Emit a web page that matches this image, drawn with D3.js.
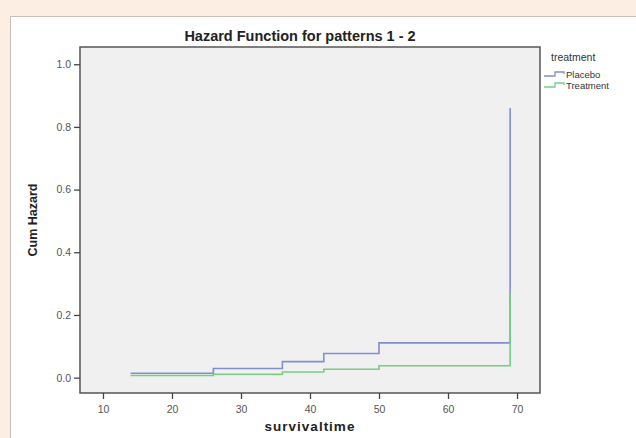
<!DOCTYPE html>
<html>
<head>
<meta charset="utf-8">
<script src="https://cdn.jsdelivr.net/npm/d3@7"></script>
<style>
  body { margin: 0; background: #fdeee3; }
  svg { display: block; }
</style>
</head>
<body>
<div class="chart"></div>
<script>
// step points
const times = [14, 26, 36, 42, 50, 69];
const placebo = [0.014, 0.029, 0.051, 0.077, 0.111, 0.86];
const treatment = [0.007, 0.011, 0.018, 0.027, 0.038, 0.268];
const xTicks = [10, 20, 30, 40, 50, 60, 70];
const yTicks = [0.0, 0.2, 0.4, 0.6, 0.8, 1.0];
const seriesNames = ['Placebo', 'Treatment'];
const colors = ['#7f8fcf', '#74cf82'];

const W = 636, H = 438;
var margin = ({top: 47, left: 80, right: 96, bottom: 45});
const width = W - margin.left - margin.right;
const height = H - margin.top - margin.bottom;

const root = d3.select('.chart').append('svg')
  .attr('width', W).attr('height', H);

// outer peach background + white panel
root.append('rect').attr('width', W).attr('height', H).attr('fill', '#fdeee3');
root.append('rect').attr('x', 10.5).attr('y', 16.5).attr('width', W).attr('height', H)
  .attr('fill', '#fff').attr('stroke', '#c8c0b8');

const svg = root.append('g')
  .attr('transform', `translate(${margin.left},${margin.top})`);

const x = d3.scaleLinear().domain([6.67, 73.33]).range([0, width]);
const y = d3.scaleLinear().domain([-0.049, 1.055]).range([height, 0]);

svg.append('rect').attr('width', width).attr('height', height).attr('fill', '#f0f0f0');

const line = d3.line().x(d => x(d[0])).y(d => y(d[1])).curve(d3.curveStepAfter);

[placebo, treatment].forEach((vals, i) => {
  const pts = times.map((t, j) => [t, vals[j]]);
  svg.append('path')
    .datum(pts)
    .attr('d', line)
    .attr('fill', 'none')
    .attr('stroke', colors[i])
    .attr('stroke-width', 1.6);
});

// frame
svg.append('rect').attr('width', width).attr('height', height)
  .attr('fill', 'none').attr('stroke', '#555').attr('stroke-width', 1.5);

const xAxis = d3.axisBottom(x).tickValues(xTicks).tickSize(6).tickSizeOuter(0);
const yAxis = d3.axisLeft(y).tickValues(yTicks).tickFormat(d3.format('.1f')).tickSize(6).tickSizeOuter(0);

svg.append('g').attr('class', 'x-axis')
  .attr('transform', `translate(0, ${height})`).call(xAxis);
svg.append('g').attr('class', 'y-axis').call(yAxis);

svg.selectAll('.domain').remove();
svg.selectAll('.tick line').attr('stroke', '#444').attr('stroke-width', 1.3);
svg.selectAll('.tick text')
  .attr('fill', '#555')
  .style('font-family', 'Liberation Sans, Arial, sans-serif')
  .style('font-size', '10.5px');
svg.selectAll('.x-axis .tick text').attr('dy', '1em');

// title & axis labels
root.append('text')
  .attr('x', 300).attr('y', 41)
  .attr('text-anchor', 'middle')
  .style('font-family', 'Liberation Sans, Arial, sans-serif')
  .style('font-size', '14.5px').style('font-weight', 'bold')
  .attr('fill', '#222')
  .text('Hazard Function for patterns 1 - 2');

root.append('text')
  .attr('x', 310).attr('y', 431)
  .attr('text-anchor', 'middle')
  .style('font-family', 'Liberation Sans, Arial, sans-serif')
  .style('font-size', '13.5px').style('font-weight', 'bold')
  .style('letter-spacing', '1px')
  .attr('fill', '#222')
  .text('survivaltime');

root.append('text')
  .attr('transform', 'translate(37, 220) rotate(-90)')
  .attr('text-anchor', 'middle')
  .style('font-family', 'Liberation Sans Narrow, Arial Narrow, sans-serif')
  .style('font-size', '12.5px').style('font-weight', 'bold')
  .attr('fill', '#222')
  .text('Cum Hazard');

// legend
const lg = root.append('g').attr('transform', 'translate(544, 0)');
lg.append('text')
  .attr('x', 7).attr('y', 61)
  .style('font-family', 'Liberation Sans, Arial, sans-serif')
  .style('font-size', '10.5px')
  .attr('fill', '#333')
  .text('treatment');

seriesNames.forEach((name, i) => {
  const yy = 76 + i * 11;
  lg.append('path')
    .attr('d', `M0,${yy} H11 V${yy - 4} H20 V${yy - 2}`)
    .attr('fill', 'none')
    .attr('stroke', colors[i])
    .attr('stroke-width', 1.3);
  lg.append('text')
    .attr('x', 22).attr('y', yy + 2)
    .style('font-family', 'Liberation Sans, Arial, sans-serif')
    .style('font-size', '9.5px')
    .attr('fill', '#333')
    .text(name);
});
</script>
</body>
</html>
